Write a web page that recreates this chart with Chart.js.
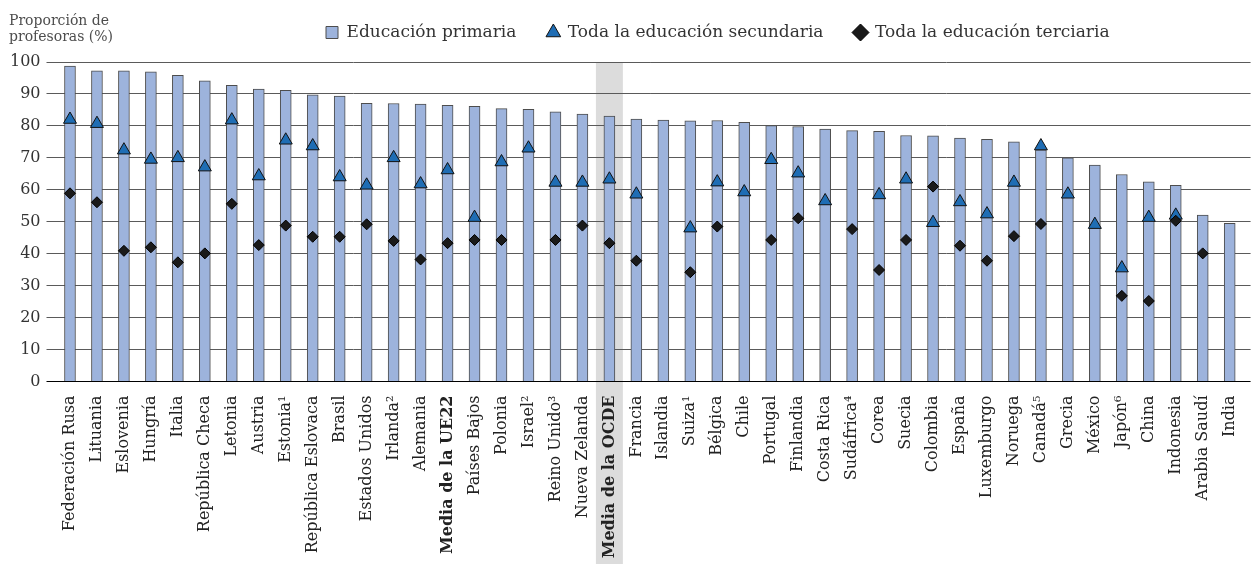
<!DOCTYPE html>
<html><head><meta charset="utf-8">
<script src="https://cdn.jsdelivr.net/npm/chart.js@4.4.1/dist/chart.umd.min.js"></script>
<style>html,body{margin:0;padding:0;background:#fff;}canvas{display:block;}</style>
</head><body>
<canvas id="c" width="1255" height="564"></canvas>
<script>
const categories = ['Federación Rusa','Lituania','Eslovenia','Hungría','Italia','República Checa','Letonia','Austria','Estonia¹','República Eslovaca','Brasil','Estados Unidos','Irlanda²','Alemania','Media de la UE22','Países Bajos','Polonia','Israel²','Reino Unido³','Nueva Zelanda','Media de la OCDE','Francia','Islandia','Suiza¹','Bélgica','Chile','Portugal','Finlandia','Costa Rica','Sudáfrica⁴','Corea','Suecia','Colombia','España','Luxemburgo','Noruega','Canadá⁵','Grecia','México','Japón⁶','China','Indonesia','Arabia Saudí','India'];
const primaria = [98.7,97.2,97.2,96.9,95.8,94.1,92.7,91.5,91.1,89.7,89.3,87.1,87.0,86.8,86.4,86.1,85.4,85.2,84.4,83.7,83.1,82.1,81.8,81.6,81.7,81.1,80.1,79.8,79.0,78.5,78.3,77.0,76.9,76.2,75.8,75.0,72.5,70.0,67.7,64.8,62.5,61.4,52.1,49.5];
const secundaria = [82.0,80.7,72.4,69.5,70.0,67.1,81.8,64.3,75.5,73.7,64.0,61.4,70.0,61.8,66.2,51.3,68.7,73.0,62.3,62.3,63.3,58.6,null,48.0,62.4,59.3,69.4,65.2,56.5,null,58.4,63.3,49.7,56.2,52.4,62.3,73.7,58.6,49.1,35.5,51.3,52.0,null,null];
const terciaria = [58.9,56.1,40.9,42.0,37.3,40.1,55.6,42.7,48.8,45.3,45.3,49.2,44.0,38.2,43.3,44.3,44.3,null,44.3,48.8,43.3,37.8,null,34.2,48.5,null,44.3,51.1,null,47.7,34.9,44.3,61.0,42.5,37.8,45.5,49.3,null,null,26.8,25.2,50.3,40.1,null];
const yTicks = [0,10,20,30,40,50,60,70,80,90,100];
const seriesNames = ['Educación primaria','Toda la educación secundaria','Toda la educación terciaria'];
const boldCategories = ['Media de la UE22','Media de la OCDE'];
const highlightCategory = 'Media de la OCDE';
const axisTitle = ['Proporción de','profesoras (%)'];

const FONT = '"DejaVu Serif", "Liberation Serif", serif';
const LEGEND_PAD = 31;

const bandPlugin = {
  id: 'band',
  beforeDraw(chart) {
    const x = chart.scales.x;
    const idx = categories.indexOf(highlightCategory);
    const cx = x.getPixelForValue(idx);
    const w = x.getPixelForValue(1) - x.getPixelForValue(0);
    const ctx = chart.ctx;
    ctx.save();
    ctx.fillStyle = '#dcdcdc';
    ctx.fillRect(cx - w / 2, chart.chartArea.top, w, chart.height - chart.chartArea.top);
    ctx.restore();
  }
};
const titlePlugin = {
  id: 'ytitle',
  afterDraw(chart) {
    const ctx = chart.ctx;
    ctx.save();
    ctx.font = '14px ' + FONT;
    ctx.fillStyle = '#4d4d4d';
    ctx.textBaseline = 'alphabetic';
    ctx.textAlign = 'left';
    ctx.fillText(axisTitle[0], 9, 25);
    ctx.fillText(axisTitle[1], 9, 41);
    ctx.restore();
  }
};
const legendLayout = {
  id: 'legendLayout',
  beforeLayout(chart) {
    const lg = chart.legend;
    if (lg && !lg._fixedFit) {
      const f = lg.fit.bind(lg);
      lg.fit = function () { f(); this.height = 62; };
      lg._fixedFit = true;
    }
  },
  afterLayout(chart) {
    if (chart.legend) {
      chart.legend.left = 326 - LEGEND_PAD;
      chart.legend.top = 24 - LEGEND_PAD;
    }
  }
};
const setTicks = s => { s.ticks = yTicks.map(v => ({ value: v })); };
const gridColor = c => (c.tick && c.tick.value === 0 ? '#000' : '#5a5a5a');

new Chart(document.getElementById('c'), {
  data: {
    labels: categories,
    datasets: [
      { type: 'bar', label: seriesNames[0], data: primaria, backgroundColor: '#9db3dc', borderColor: '#4d4d4d', borderWidth: 1,
        barThickness: 11, order: 3, pointStyle: 'rect' },
      { type: 'line', label: seriesNames[1], data: secundaria, showLine: false, pointStyle: 'triangle', pointRadius: 7.5, pointHoverRadius: 7.5,
        pointBackgroundColor: '#1f6db4', pointBorderColor: '#111', pointBorderWidth: 1, backgroundColor: '#1f6db4', borderColor: '#111', borderWidth: 1, order: 2 },
      { type: 'line', label: seriesNames[2], data: terciaria, showLine: false, pointStyle: 'rectRot', pointRadius: 5.5, pointHoverRadius: 5.5,
        pointBackgroundColor: '#1a1a1a', pointBorderColor: '#000', pointBorderWidth: 1, backgroundColor: '#1a1a1a', borderColor: '#000', borderWidth: 1, order: 1 }
    ]
  },
  options: {
    responsive: false,
    animation: false,
    devicePixelRatio: 1,
    layout: { padding: 0 },
    plugins: {
      tooltip: { enabled: false },
      legend: {
        position: 'top', align: 'start',
        labels: { usePointStyle: true, boxWidth: 12, boxHeight: 12, padding: LEGEND_PAD, color: '#333',
          font: { family: FONT, size: 17 }, sort: (a, b) => a.datasetIndex - b.datasetIndex }
      }
    },
    scales: {
      x: {
        grid: { display: false },
        border: { display: true, color: '#000', width: 1 },
        ticks: {
          autoSkip: false, maxRotation: 90, minRotation: 90, padding: 6, color: '#222',
          font: ctx => ({ family: FONT, size: 16, weight: boldCategories.includes(categories[ctx.index]) ? 'bold' : 'normal' })
        },
        afterFit: s => { s.height = 564 - 381.5; }
      },
      y: {
        min: 0, max: 100,
        afterBuildTicks: setTicks,
        afterFit: s => { s.width = 56.5; },
        grid: { color: gridColor, lineWidth: 1, tickLength: 10 },
        border: { display: false },
        ticks: { padding: 6, color: '#333', font: { family: FONT, size: 16 } }
      },
      y2: {
        position: 'right', min: 0, max: 100,
        afterBuildTicks: setTicks,
        afterFit: s => { s.width = 7.4; },
        grid: { drawOnChartArea: false, color: gridColor, tickLength: 7.4 },
        border: { display: false },
        ticks: { display: false }
      }
    }
  },
  plugins: [bandPlugin, titlePlugin, legendLayout]
});
</script>
</body></html>
